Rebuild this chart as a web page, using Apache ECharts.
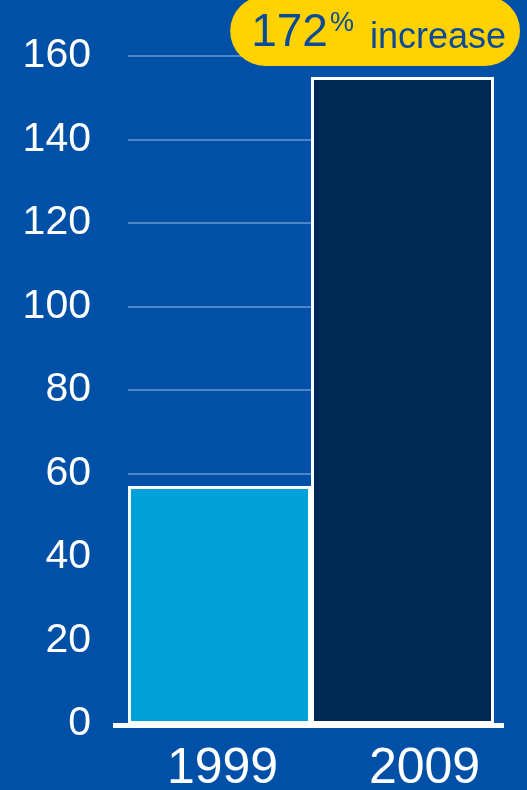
<!DOCTYPE html>
<html lang="en">
<head>
    <meta charset="UTF-8">
    <title>172% increase</title>
    <script src="https://cdn.jsdelivr.net/npm/echarts@6/dist/echarts.min.js"></script>
    <style>
        html, body { margin: 0; padding: 0; background: #0050a8; }
        #grafica { width: 527px; height: 790px; }
    </style>
</head>
<body>
    <div id="grafica"></div>
    <script>
        // datos
        let years = ['1999', '2009'];
        let values = [57, 155];
        let barColors = ['#00a0d8', '#002855'];
        let yTicks = [0, 20, 40, 60, 80, 100, 120, 140, 160];

        let myChart = echarts.init(document.getElementById('grafica'));

        let option = {
            backgroundColor: '#0050a8',
            animation: false,
            title: {
                text: '{a|172}{b|%}{c| increase}',
                right: 7,
                top: -4,
                backgroundColor: '#ffd200',
                borderRadius: 36,
                padding: [14, 14, 10, 21],
                textStyle: {
                    fontWeight: 'normal',
                    rich: {
                        a: { fontFamily: 'Liberation Sans', fontWeight: 'normal', fontSize: 46, color: '#0b4a96', verticalAlign: 'bottom' },
                        b: { fontFamily: 'Liberation Sans', fontWeight: 'normal', fontSize: 27, color: '#0b4a96', verticalAlign: 'top', padding: [0, 6, 16, 2] },
                        c: { fontFamily: 'Liberation Sans', fontWeight: 'normal', fontSize: 36, color: '#0b4a96', verticalAlign: 'bottom' }
                    }
                }
            },
            grid: { left: 128, right: 33, top: 56, bottom: 66, outerBoundsMode: 'none' },
            xAxis: {
                type: 'category',
                data: years,
                axisTick: { show: false },
                axisLine: { show: false },
                axisLabel: {
                    margin: 20,
                    interval: 0,
                    formatter: function (v, i) { return i === 1 ? '{r|' + v + '}' : '{l|' + v + '}'; },
                    rich: {
                        l: { fontFamily: 'Liberation Sans', fontSize: 50, color: '#ffffff', padding: [0, 0, 0, 6] },
                        r: { fontFamily: 'Liberation Sans', fontSize: 50, color: '#ffffff', padding: [0, 0, 0, 44] }
                    }
                }
            },
            yAxis: {
                type: 'value',
                min: 0,
                max: 160,
                interval: 20,
                axisLine: { show: false },
                axisTick: { show: false },
                axisLabel: {
                    margin: 37,
                    fontFamily: 'Liberation Sans',
                    fontSize: 41,
                    color: '#ffffff',
                    formatter: function (v) { return yTicks.indexOf(v) >= 0 ? String(v) : ''; }
                },
                splitLine: { lineStyle: { color: '#6a98d0', width: 1.5 } }
            },
            series: [
                {
                    type: 'bar',
                    barCategoryGap: '0%',
                    data: values.map((v, i) => ({ value: v, itemStyle: { color: barColors[i] } })),
                    itemStyle: { borderColor: '#ffffff', borderWidth: 3 }
                }
            ]
        };

        myChart.setOption(option);

        // linea del eje, un poco mas ancha que las barras
        let c0 = myChart.convertToPixel({ xAxisIndex: 0 }, years[0]);
        let c1 = myChart.convertToPixel({ xAxisIndex: 0 }, years[1]);
        let y0 = myChart.convertToPixel({ yAxisIndex: 0 }, 0);
        let band = c1 - c0;
        let left = c0 - band / 2;
        let right = c1 + band / 2;
        myChart.setOption({
            graphic: [{
                type: 'rect',
                shape: { x: left - 15, y: y0 - 1, width: right - left + 25, height: 5 },
                style: { fill: '#ffffff' },
                z: 10
            }]
        });
    </script>
</body>
</html>
